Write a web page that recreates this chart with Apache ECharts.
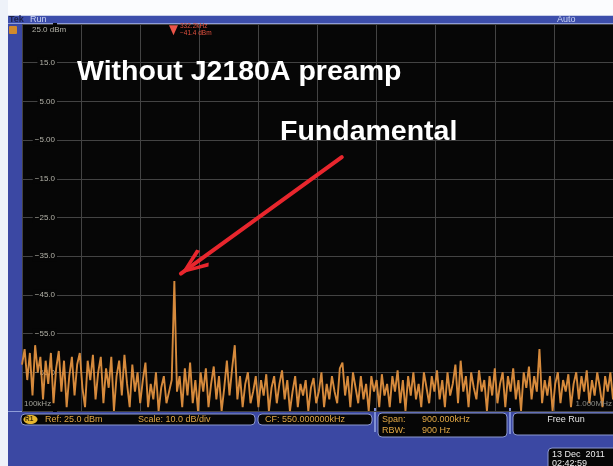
<!DOCTYPE html>
<html>
<head>
<meta charset="utf-8">
<script src="https://cdn.jsdelivr.net/npm/echarts@6/dist/echarts.min.js"></script>
<style>
  html, body { margin: 0; padding: 0; background: #fff; }
  #chart { width: 613px; height: 466px; }
</style>
</head>
<body>
<div id="chart"></div>
<script>
// sweep settings (kHz / dBm)
const startFreq = 100;
const stopFreq = 1000;
const freqStep = 4;
const divFreq = 90;
const refLevel = 25;
const bottomLevel = -75;
const divLevel = 10;

// y tick labels as the instrument prints them
const levelTicks = [15, 5, -5, -15, -25, -35, -45, -55, -65];
const levelTickLabels = ['15.0', '5.00', '−5.00', '−15.0', '−25.0', '−35.0', '−45.0', '−55.0', '−65.0'];

// marker readout
const markerFreq = 332.2;
const markerLevel = -41.4;

// trace, one value every 4 kHz from 100 kHz
const traceLevels = [
  -63, -59, -67, -60, -71, -58, -65, -61, -72, -62,
  -68, -60, -73, -64, -59.5, -70, -62, -74, -66, -61,
  -71, -63, -60, -69, -74, -62, -67, -60.5, -72, -65,
  -61, -73, -64, -69, -61, -75, -66, -62, -71, -60.5,
  -68, -74, -63, -70, -65, -73, -67, -62.5, -74, -68,
  -72, -65, -75, -69, -66, -73, -70, -67,
  -41.4,
  -70, -66, -74, -64, -71, -62.5, -73, -67, -75, -65, -70,
  -64, -74, -68, -63.5, -72, -66, -75, -69, -62, -71,
  -64, -58, -72, -66, -74, -68, -65, -73, -70, -66,
  -74, -67, -71, -65.5, -75, -69, -66, -73, -68, -64.5,
  -72, -67, -75, -70, -66, -74, -68, -71, -67, -75,
  -69, -66.5, -73, -70, -65, -74, -68, -72, -66, -70,
  -73, -64, -62.5, -71, -66, -74, -65, -69, -73, -66,
  -72, -68, -75, -66, -70, -67, -74, -65.5, -71, -68,
  -74, -66, -70, -64.5, -73, -67, -75, -66, -71, -65,
  -72, -68, -74, -65, -69, -73, -66, -70, -64.5, -72,
  -67, -74, -65, -71, -68, -63, -73, -62, -70, -66,
  -74, -65, -69, -72, -64.5, -70, -67, -75, -66, -71,
  -64, -73, -68, -65, -74, -66, -70, -64, -72, -67,
  -75, -65, -69, -63.5, -72, -66, -70, -59, -73, -67,
  -71, -66, -75, -68, -65, -73, -67, -70, -65.5, -74,
  -68, -65, -72, -66, -70, -64.5, -73, -67, -71, -65,
  -69, -74, -66, -70, -65, -72
];

const traceData = traceLevels.map((v, i) => [startFreq + i * freqStep, v]);

const chart = echarts.init(document.getElementById('chart'), null, { renderer: 'canvas' });

const scopeFont = 'Liberation Sans';
const labelGray = '#b3b2a8';
const statusOrange = '#e2a845';
const frameBlue = '#3b48a3';

// open chevron head; tip sits at the symbol centre, arms trail behind it
const chevron = 'path://M10,-29L10.01,-29L10,-29Z M10,0L20,26L17,28.5L10,8.5L3,28.5L0,26Z';

function box(x, y, w, h) {
  return {
    type: 'rect',
    shape: { x: x, y: y, width: w, height: h, r: 4 },
    style: { fill: '#060606', stroke: '#8b97cf', lineWidth: 1 }
  };
}
function txt(x, y, text, color, size, extra) {
  return {
    type: 'text',
    x: x, y: y,
    z: 50,
    style: Object.assign({
      text: text, fill: color, fontSize: size, fontFamily: scopeFont,
      verticalAlign: 'middle', align: 'left'
    }, extra || {})
  };
}

const option = {
  animation: false,
  backgroundColor: frameBlue,
  grid: {
    left: 22, top: 24, width: 593, height: 387,
    show: true, backgroundColor: '#060606', borderWidth: 0
  },
  xAxis: {
    type: 'value',
    min: startFreq, max: stopFreq, interval: divFreq,
    axisLine: { show: false }, axisTick: { show: false }, axisLabel: { show: false },
    splitLine: { show: true, lineStyle: { color: '#434343', width: 1 } }
  },
  yAxis: {
    type: 'value',
    min: bottomLevel, max: refLevel, interval: divLevel,
    axisLine: { show: false }, axisTick: { show: false },
    axisLabel: {
      inside: true, margin: 35, align: 'right',
      color: labelGray, fontSize: 8, fontFamily: scopeFont,
      backgroundColor: '#060606', padding: [1, 2],
      formatter: function (v) {
        const k = levelTicks.indexOf(v);
        return k >= 0 ? levelTickLabels[k] : '';
      }
    },
    splitLine: { show: true, lineStyle: { color: '#434343', width: 1 } }
  },
  series: [{
    type: 'line',
    data: traceData,
    showSymbol: false,
    lineStyle: { color: '#d68a3c', width: 1.9 },
    z: 3,
    markLine: {
      silent: true,
      animation: false,
      symbol: ['none', chevron],
      symbolSize: [21, 58],
      lineStyle: { color: '#e8262d', width: 4, type: 'solid', cap: 'round' },
      itemStyle: { color: '#e8262d' },
      label: { show: false },
      data: [[{ coord: [587, -9.4] }, { coord: [342, -39.5] }]]
    },
    markPoint: {
      silent: true,
      animation: false,
      symbol: 'triangle',
      symbolRotate: 180,
      symbolSize: [9, 10],
      itemStyle: { color: '#ea5448' },
      label: {
        show: true, position: 'right', distance: 2,
        color: '#e0503f', fontSize: 6.5, lineHeight: 7, fontFamily: scopeFont,
        formatter: markerFreq.toFixed(1) + 'kHz\n' + '−' + Math.abs(markerLevel).toFixed(1) + ' dBm'
      },
      data: [{ coord: [330.7, 23.4] }]
    }
  }],
  graphic: [
    // outer white margins
    { type: 'rect', shape: { x: 0, y: 0, width: 613, height: 15 }, style: { fill: '#fbfcfe' } },
    { type: 'rect', shape: { x: 0, y: 0, width: 8, height: 466 }, style: { fill: '#eef2f9' } },
    { type: 'rect', shape: { x: 8, y: 15, width: 605, height: 1 }, style: { fill: '#c8cfe8' } },
    // title bar
    { type: 'rect', shape: { x: 8, y: 16, width: 605, height: 8 }, style: { fill: '#3d4eab' } },
    { type: 'rect', shape: { x: 8, y: 23, width: 605, height: 1 }, style: { fill: '#8e9cd8' } },
    txt(9, 20, 'Tek', '#1d2148', 9, { fontWeight: 'bold' }),
    txt(30, 20, 'Run', '#c9d2f2', 9),
    txt(557, 20, 'Auto', '#c9d2f2', 9),
    { type: 'rect', shape: { x: 9, y: 26, width: 8, height: 8, r: 1 }, style: { fill: '#d28a2c' } },
    // in-screen labels
    txt(32, 30, '25.0 dBm', labelGray, 8),
    txt(24, 404, '100kHz', labelGray, 8, { opacity: 0.9 }),
    txt(612, 404, '1.000MHz', '#8a8a84', 8, { align: 'right' }),
    // lower edge of the screen
    { type: 'rect', shape: { x: 8, y: 411, width: 605, height: 1 }, style: { fill: '#8e9cd8' } },
    // status readouts
    box(21, 414, 234, 11),
    { type: 'ellipse', shape: { cx: 30.5, cy: 419.5, rx: 7, ry: 4.5 }, style: { fill: '#e6b52e' } },
    txt(25, 419.5, 'R1', '#3a2a08', 6.5, { fontWeight: 'bold' }),
    txt(45, 419.5, 'Ref: 25.0 dBm', statusOrange, 9),
    txt(138, 419.5, 'Scale: 10.0 dB/div', statusOrange, 9),
    box(258, 414, 114, 11),
    txt(265, 419.5, 'CF: 550.000000kHz', statusOrange, 9),
    { type: 'rect', shape: { x: 374, y: 408, width: 2, height: 24 }, style: { fill: '#7f8fd4' } },
    box(378, 413, 129, 24),
    txt(382, 419.5, 'Span:', statusOrange, 9),
    txt(422, 419.5, '900.000kHz', statusOrange, 9),
    txt(382, 431, 'RBW:', statusOrange, 9),
    txt(422, 431, '900 Hz', statusOrange, 9),
    { type: 'rect', shape: { x: 509, y: 408, width: 2, height: 26 }, style: { fill: '#7f8fd4' } },
    box(513, 413, 110, 22),
    txt(566, 419.5, 'Free Run', '#e2e2e2', 9, { align: 'center' }),
    box(548, 448, 75, 26),
    txt(552, 455, '13 Dec  2011', '#ececec', 9),
    txt(552, 464, '02:42:59', '#ececec', 9),
    // annotations
    txt(77, 72, 'Without J2180A preamp', '#ffffff', 28.5, { fontWeight: 'bold', fontFamily: 'Liberation Sans, Arial, sans-serif' }),
    txt(280, 132, 'Fundamental', '#ffffff', 28.5, { fontWeight: 'bold', fontFamily: 'Liberation Sans, Arial, sans-serif' })
  ]
};

chart.setOption(option);
</script>
</body>
</html>
